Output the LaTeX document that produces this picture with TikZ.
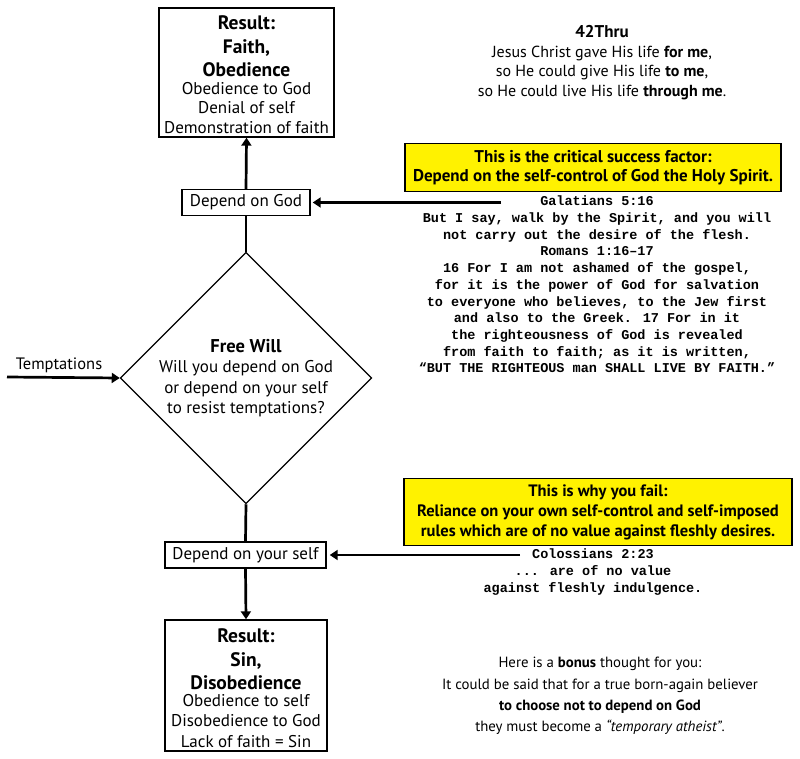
\documentclass[tikz,border=0pt]{standalone}
\usepackage{fontspec}
\setmainfont{PT Sans}
\newfontfamily\monofont{Liberation Mono}
\usetikzlibrary{arrows.meta,shapes.geometric}
\newcommand{\hd}[1]{{\bfseries\fontsize{19.5}{22}\selectfont #1}}
\begin{document}
\begin{tikzpicture}[x=1pt,y=-1pt,
  box/.style={draw,line width=1.4pt,align=center,inner sep=0pt,font=\fontsize{17}{19.5}\selectfont},
  conn/.style={line width=2.7pt,-{Triangle[length=8pt,width=10pt]}},
  plainline/.style={line width=2.7pt},
  yel/.style={draw,line width=1.4pt,fill=yellow,align=center,inner sep=0pt,font=\bfseries\fontsize{17}{19.5}\selectfont},
  mono/.style={align=center,inner sep=0pt,font=\monofont\bfseries\fontsize{13.5}{16.7}\selectfont},
  txt/.style={align=center,inner sep=0pt,font=\fontsize{16}{19.7}\selectfont}]
\useasboundingbox (0,0) rectangle (800,759);

% result boxes
\node[box,minimum width=175pt,minimum height=129pt] (res1) at (246.5,72.5)
 {\rule{0pt}{18.5pt}\hd{Result:}\\[4pt]
  \hd{Faith,}\\[4pt]
  \hd{Obedience}\\[-2pt]
  Obedience to God\\ Denial of self\\[0.5pt] Demonstration of faith};
\node[box,minimum width=162pt,minimum height=131pt] (res2) at (246,685.5)
 {\rule{0pt}{19pt}\hd{Result:}\\[4pt]
  \hd{Sin,}\\[3.5pt]
  \hd{Disobedience}\\[-2pt]
  Obedience to self\\[0.7pt] Disobedience to God\\[0.7pt] Lack of faith = Sin};

% decision steps
\node[box,minimum width=128pt,minimum height=26pt] (dg) at (246,202.5) {Depend on God};
\node[box,minimum width=161pt,minimum height=26pt] (ds) at (245.5,555) {Depend on your self};

% diamond
\node[draw,diamond,line width=1.2pt,minimum width=250pt,minimum height=248pt,inner sep=0pt,
      align=center,font=\fontsize{17}{20.3}\selectfont] (fw) at (246,378)
 {{\bfseries\fontsize{18.5}{21}\selectfont Free Will}\\
  Will you depend on God\\ or depend on your self\\ to resist temptations?};

% temptations
\coordinate (t0) at (7,377);
\node[txt,font=\fontsize{16.5}{19.7}\selectfont] (tl) at (59,365) {Temptations};
\draw[conn] (t0) -- (fw.west);

% vertical connectors
\draw[conn] (dg.north) -- (res1.south);
\draw[plainline] (fw.north) -- (dg.south);
\draw[plainline] (fw.south) -- (ds.north);
\draw[conn] (ds.south) -- (res2.north);

% side arrows
\coordinate (g0) at (501,202.5);
\coordinate (s0) at (520,555);
\draw[conn,shorten >=2pt] (g0) -- (dg.east);
\draw[conn,shorten >=3pt] (s0) -- (ds.east);

% yellow callouts
\node[yel,minimum width=376pt,minimum height=48pt] (y1) at (593,167.5)
 {This is the critical success factor:\\ Depend on the self-control of God the Holy Spirit.};
\node[yel,minimum width=388pt,minimum height=67pt,font=\bfseries\fontsize{16.5}{20}\selectfont] (y2) at (598,512)
 {This is why you fail:\\ Reliance on your own self-control and self-imposed\\ rules which are of no value against fleshly desires.};

% scripture
\node[mono] (gal) at (597,284.5)
 {Galatians 5:16\\
  But I say, walk by the Spirit, and you will\\
  not carry out the desire of the flesh.\\
  Romans 1:16–17\\
  16 For I am not ashamed of the gospel,\\
  for it is the power of God for salvation\\
  to everyone who believes, to the Jew first\\
  and also to the Greek. 17 For in it\\
  the righteousness of God is revealed\\
  from faith to faith; as it is written,\\
  “BUT THE RIGHTEOUS man SHALL LIVE BY FAITH.”};
\node[mono] (col) at (593,572)
 {Colossians 2:23\\ ... are of no value\\ against fleshly indulgence.};

% 42Thru
\node[txt] (thru) at (602,62.5)
 {{\bfseries\fontsize{17}{19.7}\selectfont 42Thru}\\
  Jesus Christ gave His life \textbf{for me},\\
  so He could give His life \textbf{to me},\\
  so He could live His life \textbf{through me}.};

% bonus
\node[txt,font=\fontsize{14.8}{21.3}\selectfont] (bonus) at (600,696)
 {Here is a \textbf{bonus} thought for you:\\
  It could be said that for a true born-again believer\\
  \textbf{to choose not to depend on God}\\
  they must become a \textit{“temporary atheist”}.};
\end{tikzpicture}
\end{document}
